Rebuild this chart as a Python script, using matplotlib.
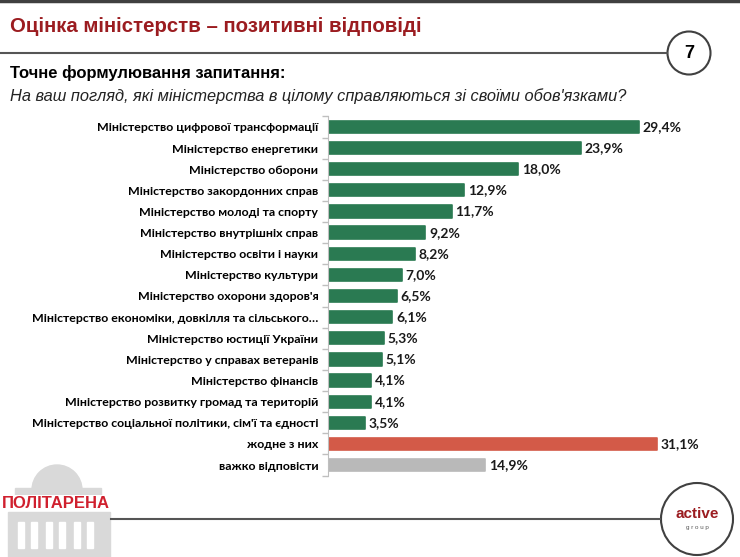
import matplotlib
matplotlib.use("Agg")
import matplotlib.pyplot as plt
from matplotlib.patches import Circle, Rectangle, Wedge
import numpy as np

# Дані з графіка
ministries = [
    "Міністерство цифрової трансформації",
    "Міністерство енергетики",
    "Міністерство оборони",
    "Міністерство закордонних справ",
    "Міністерство молоді та спорту",
    "Міністерство внутрішніх справ",
    "Міністерство освіти і науки",
    "Міністерство культури",
    "Міністерство охорони здоров'я",
    "Міністерство економіки, довкілля та сільського…",
    "Міністерство юстиції України",
    "Міністерство у справах ветеранів",
    "Міністерство фінансів",
    "Міністерство розвитку громад та територій",
    "Міністерство соціальної політики, сім'ї та єдності",
    "жодне з них",
    "важко відповісти",
]
values = [29.4, 23.9, 18.0, 12.9, 11.7, 9.2, 8.2, 7.0, 6.5, 6.1, 5.3, 5.1, 4.1, 4.1, 3.5, 31.1, 14.9]

GREEN = "#2a7a52"
RED = "#d35a48"
GREY = "#b9b9b9"
DARK_RED = "#9b1c20"
colors = [GREEN] * 15 + [RED, GREY]

W, H = 740, 557
fig = plt.figure(figsize=(W / 100, H / 100), dpi=100)

# фон у піксельних координатах для ліній, кіл і логотипів
bg = fig.add_axes([0, 0, 1, 1])
bg.set_xlim(0, W)
bg.set_ylim(H, 0)
bg.axis("off")

head_font = ["Liberation Sans", "DejaVu Sans"]
label_font = ["Lato", "DejaVu Sans"]

# верхня лінія
bg.plot([0, W], [1, 1], color="#404040", lw=2.5)
fig.text(10 / W, 1 - 26 / H, "Оцінка міністерств – позитивні відповіді",
         family=head_font, fontsize=14.7, fontweight="bold", color=DARK_RED, va="center")
bg.plot([0, 667], [53, 53], color="#555555", lw=1.5)
bg.add_patch(Circle((689, 53), 21.5, fill=False, ec="#404040", lw=1.5))
bg.text(689, 54, "7", family=head_font, fontsize=13, fontweight="bold", ha="center", va="center")

fig.text(10 / W, 1 - 73 / H, "Точне формулювання запитання:",
         family=head_font, fontsize=12, fontweight="bold", color="black", va="center")
fig.text(10 / W, 1 - 96 / H, "На ваш погляд, які міністерства в цілому справляються зі своїми обов'язками?",
         family=head_font, fontsize=11.8, style="italic", color="#222222", va="center")

# графік
ax = fig.add_axes([328 / W, 1 - 475.6 / H, 372 / W, (475.6 - 116.4) / H])
y = np.arange(len(values))
bars = ax.barh(y, values, height=0.58, color=colors, edgecolor=colors, linewidth=1.2)
for b in bars:
    b.set_joinstyle("round")
ax.set_xlim(0, 35.2)
ax.set_ylim(len(values) - 0.5, -0.5)
ax.set_yticks(y)
ax.set_yticklabels(ministries, family=label_font, fontweight="bold", fontsize=8.9)
ax.set_yticks(np.arange(len(values) + 1) - 0.5, minor=True)
ax.tick_params(axis="y", which="major", length=0, pad=7)
ax.tick_params(axis="y", which="minor", length=4, color="#bfbfbf", width=1)
ax.set_xticks([])
for side in ["top", "right", "bottom"]:
    ax.spines[side].set_visible(False)
ax.spines["left"].set_color("#bfbfbf")
ax.patch.set_alpha(0)

for yi, v in zip(y, values):
    ax.text(v + 0.35, yi, f"{v:.1f}%".replace(".", ","), va="center", ha="left",
            family=label_font, fontweight="bold", fontsize=10, color="#1a1a1a")

# нижня лінія і логотип active group
bg.plot([111, 660], [519, 519], color="#555555", lw=1.5)
bg.add_patch(Circle((697, 519), 36, fill=False, ec="#404040", lw=1.5, clip_on=False))
bg.text(697, 514, "active", family=head_font, fontsize=11, fontweight="bold",
        color=DARK_RED, ha="center", va="center")
bg.text(697, 527, "g r o u p", family=head_font, fontsize=4.5, color="#555555",
        ha="center", va="center")

# логотип ПОЛІТАРЕНА
LG = "#d9d9d9"
bg.add_patch(Wedge((57, 490), 25, 180, 360, color=LG))
bg.add_patch(Rectangle((15, 488), 86, 7, color=LG))
bg.add_patch(Rectangle((8, 512), 102, 45, color=LG))
for cx in [18, 46, 74]:
    bg.add_patch(Rectangle((cx, 522), 6, 26, color="white"))
    bg.add_patch(Rectangle((cx + 13, 522), 6, 26, color="white"))
bg.text(56, 503, "ПОЛІТАРЕНА", family=head_font, fontsize=12, fontweight="bold",
        color="#d0202e", ha="center", va="center",
        bbox=dict(facecolor="white", edgecolor="none", pad=0.5))

fig.savefig("out.png", dpi=100)
